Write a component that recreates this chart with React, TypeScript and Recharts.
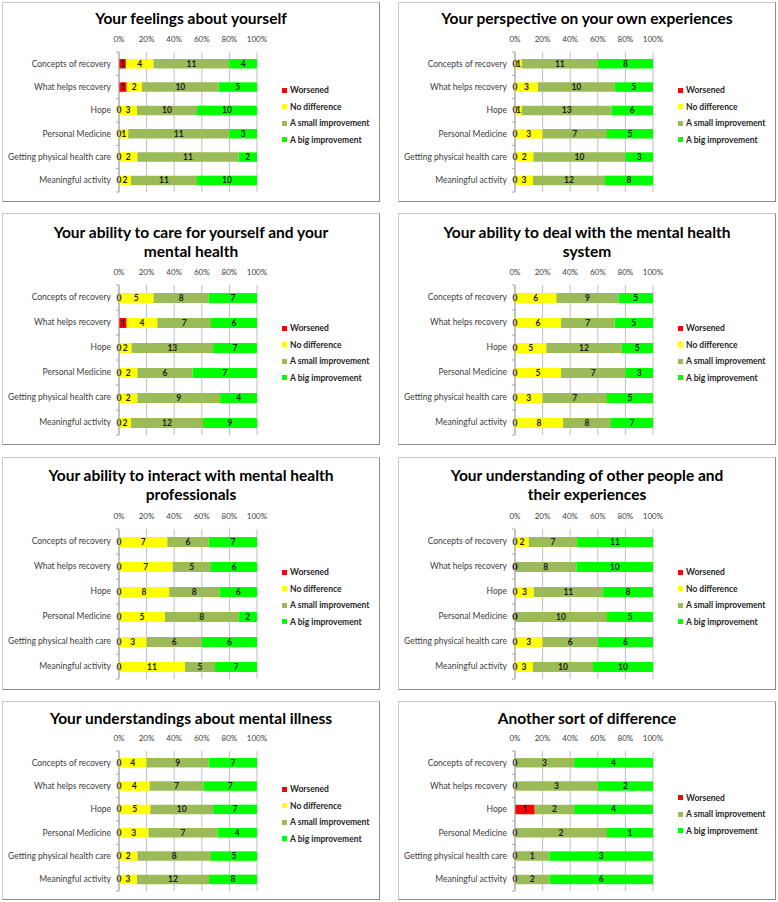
import React from 'react';
import { BarChart, Bar, XAxis, YAxis, CartesianGrid, Legend } from 'recharts';

// ---------- data ----------
const categories = [
  'Concepts of recovery',
  'What helps recovery',
  'Hope',
  'Personal Medicine',
  'Getting physical health care',
  'Meaningful activity',
];

const seriesKeys = ['worsened', 'noDiff', 'small', 'big'];
const seriesNames = ['Worsened', 'No difference', 'A small improvement', 'A big improvement'];
const seriesColors = ['#FF0000', '#FFFF00', '#9BBB59', '#00FF00'];

const xTicks = [0, 0.2, 0.4, 0.6, 0.8, 1];
const xTickLabels = ['0%', '20%', '40%', '60%', '80%', '100%'];

const feelings = {
  worsened: [1, 1, 0, 0, 0, 0],
  noDiff: [4, 2, 3, 1, 2, 2],
  small: [11, 10, 10, 11, 11, 11],
  big: [4, 5, 10, 3, 2, 10],
};
const perspective = {
  worsened: [0, 0, 0, 0, 0, 0],
  noDiff: [1, 3, 1, 3, 2, 3],
  small: [11, 10, 13, 7, 10, 12],
  big: [8, 5, 6, 5, 3, 8],
};
const careForYourself = {
  worsened: [0, 1, 0, 0, 0, 0],
  noDiff: [5, 4, 2, 2, 2, 2],
  small: [8, 7, 13, 6, 9, 12],
  big: [7, 6, 7, 7, 4, 9],
};
const dealWithSystem = {
  worsened: [0, 0, 0, 0, 0, 0],
  noDiff: [6, 6, 5, 5, 3, 8],
  small: [9, 7, 12, 7, 7, 8],
  big: [5, 5, 5, 3, 5, 7],
};
const interactProfessionals = {
  worsened: [0, 0, 0, 0, 0, 0],
  noDiff: [7, 7, 8, 5, 3, 11],
  small: [6, 5, 8, 8, 6, 5],
  big: [7, 6, 6, 2, 6, 7],
};
const otherPeople = {
  worsened: [0, 0, 0, 0, 0, 0],
  noDiff: [2, 0, 3, 0, 3, 3],
  small: [7, 8, 11, 10, 6, 10],
  big: [11, 10, 8, 5, 6, 10],
};
const mentalIllness = {
  worsened: [0, 0, 0, 0, 0, 0],
  noDiff: [4, 4, 5, 3, 2, 3],
  small: [9, 7, 10, 7, 8, 12],
  big: [7, 7, 7, 4, 5, 8],
};
const anotherSort = {
  worsened: [0, 0, 1, 0, 0, 0],
  small: [3, 3, 2, 2, 1, 2],
  big: [4, 2, 4, 1, 3, 6],
};

const panels = [
  { title: 'Your feelings about yourself', values: feelings, col: 0, row: 0 },
  { title: 'Your perspective on your own experiences', values: perspective, col: 1, row: 0 },
  { title: 'Your ability to care for yourself and your\nmental health', values: careForYourself, col: 0, row: 1 },
  { title: 'Your ability to deal with the mental health\nsystem', values: dealWithSystem, col: 1, row: 1 },
  { title: 'Your ability to interact with mental health\nprofessionals', values: interactProfessionals, col: 0, row: 2 },
  { title: 'Your understanding of other people and\ntheir experiences', values: otherPeople, col: 1, row: 2 },
  { title: 'Your understandings about mental illness', values: mentalIllness, col: 0, row: 3 },
  { title: 'Another sort of difference', values: anotherSort, col: 1, row: 3 },
];

// ---------- layout ----------
const FONT = 'Lato, "Open Sans", sans-serif';
const colLefts = [2, 398];
const panelW = 378;
const rowTops = [2, 213, 457, 701];
const rowHeights = [200, 232, 233, 199];
const plotTops = [49, 71, 71, 49]; // inner coords
const plotHeights = [140, 150, 150, 140];
const barSizes = [9.5, 10, 10, 9.5];
const titleTops = [6, 9, 8, 7];
const plotLeft = 116;
const plotWidth = 138;

function Panel({ p }: { p: any }) {
  const innerW = panelW - 2;
  const innerH = rowHeights[p.row] - 2;
  const plotTop = plotTops[p.row];
  const plotH = plotHeights[p.row];
  const band = plotH / categories.length;
  const keys = seriesKeys.filter((k) => p.values[k]);
  const lastKey = keys[keys.length - 1];
  const data = categories.map((c, i) => {
    const o: any = { name: c };
    keys.forEach((k) => (o[k] = p.values[k][i]));
    return o;
  });
  const legendItems = keys.map((k) => {
    const idx = seriesKeys.indexOf(k);
    return { name: seriesNames[idx], color: seriesColors[idx] };
  });
  const itemH = 16.5;
  const legendTop = plotTop + plotH / 2 - 7 - (legendItems.length * itemH) / 2;

  const YTick = (props: any) => {
    const { x, y, payload, index } = props;
    const ax = plotLeft;
    return (
      <g>
        <line x1={ax - 3} x2={ax} y1={y - band / 2} y2={y - band / 2} stroke="#a6a6a6" />
        {index === categories.length - 1 && (
          <line x1={ax - 3} x2={ax} y1={y + band / 2} y2={y + band / 2} stroke="#a6a6a6" />
        )}
        <text x={x} y={y} dy="0.35em" textAnchor="end" fontSize={8.5} fill="#404040" fontFamily={FONT}>
          {payload.value}
        </text>
      </g>
    );
  };

  // Last segment's shape: draws its rect, then all value labels of the row,
  // positioned from the library-computed geometry of this segment.
  const LastShape = (props: any) => {
    const { x, y, width, height, fill, payload } = props;
    const total = keys.reduce((s, k) => s + payload[k], 0);
    const lastVal = payload[lastKey];
    const fullW = (width * total) / lastVal;
    const left = x + width - fullW;
    let cum = 0;
    const labels = keys.map((k) => {
      const v = payload[k];
      const cx = left + (fullW * (cum + v / 2)) / total;
      cum += v;
      return (
        <text
          key={k}
          x={cx}
          y={y + height / 2}
          dy="0.35em"
          textAnchor="middle"
          fontSize={8.5}
          fontWeight={700}
          fill="#1a1a1a"
          fontFamily={FONT}
        >
          {v}
        </text>
      );
    });
    return (
      <g>
        <rect x={x} y={y} width={width} height={height} fill={fill} />
        {labels}
      </g>
    );
  };

  const renderLegend = () => (
    <div style={{ fontFamily: FONT }}>
      {legendItems.map((it) => (
        <div key={it.name} style={{ display: 'flex', alignItems: 'center', height: itemH }}>
          <span style={{ width: 5, height: 5, background: it.color, display: 'inline-block', marginRight: 3 }} />
          <span style={{ fontSize: 8.5, fontWeight: 700, color: '#262626', whiteSpace: 'nowrap' }}>{it.name}</span>
        </div>
      ))}
    </div>
  );

  return (
    <div
      style={{
        position: 'absolute',
        left: colLefts[p.col],
        top: rowTops[p.row],
        width: panelW,
        height: rowHeights[p.row],
        boxSizing: 'border-box',
        borderTop: '1px solid #c8c8c8',
        borderLeft: '1px solid #c8c8c8',
        borderRight: '1px solid #8c8c8c',
        borderBottom: '1px solid #8c8c8c',
        background: '#fff',
      }}
    >
      <div
        style={{
          position: 'absolute',
          left: 0,
          top: titleTops[p.row],
          width: innerW,
          textAlign: 'center',
          fontFamily: FONT,
          fontWeight: 700,
          fontSize: 15.5,
          lineHeight: '19px',
          color: '#000',
          whiteSpace: 'pre-line',
          zIndex: 2,
        }}
      >
        {p.title}
      </div>
      <div style={{ position: 'absolute', left: 0, top: 0 }}>
        <BarChart
          width={innerW}
          height={innerH}
          data={data}
          layout="vertical"
          stackOffset="expand"
          barSize={barSizes[p.row]}
          margin={{ top: 0, left: 0, right: innerW - plotLeft - plotWidth, bottom: innerH - plotTop - plotH }}
        >
          <CartesianGrid horizontal={false} stroke="#bfbfbf" />
          <XAxis
            type="number"
            orientation="top"
            domain={[0, 1]}
            ticks={xTicks}
            tickFormatter={(v: number) => xTickLabels[xTicks.indexOf(v)] ?? ''}
            height={plotTop}
            axisLine={false}
            tickLine={false}
            tickSize={6}
            tickMargin={4}
            interval={0}
            tick={{ fontSize: 8, fill: '#404040', fontFamily: FONT }}
          />
          <YAxis
            type="category"
            dataKey="name"
            width={plotLeft}
            axisLine={{ stroke: '#a6a6a6' }}
            tickLine={false}
            tickSize={0}
            tickMargin={8}
            interval={0}
            tick={<YTick />}
          />
          {keys.map((k) => {
            const idx = seriesKeys.indexOf(k);
            return (
              <Bar
                key={k}
                dataKey={k}
                name={seriesNames[idx]}
                stackId="a"
                fill={seriesColors[idx]}
                isAnimationActive={false}
                shape={k === lastKey ? <LastShape /> : undefined}
              />
            );
          })}
          <Legend
            layout="vertical"
            align="center"
            verticalAlign="middle"
            content={renderLegend}
            wrapperStyle={{ position: 'absolute', left: 279, top: legendTop, width: 96, height: 'auto' }}
          />
        </BarChart>
      </div>
    </div>
  );
}

export default function App() {
  return (
    <div style={{ position: 'absolute', left: 0, top: 0, width: 778, height: 902, background: '#fff' }}>
      {panels.map((p, i) => (
        <Panel key={i} p={p} />
      ))}
    </div>
  );
}
